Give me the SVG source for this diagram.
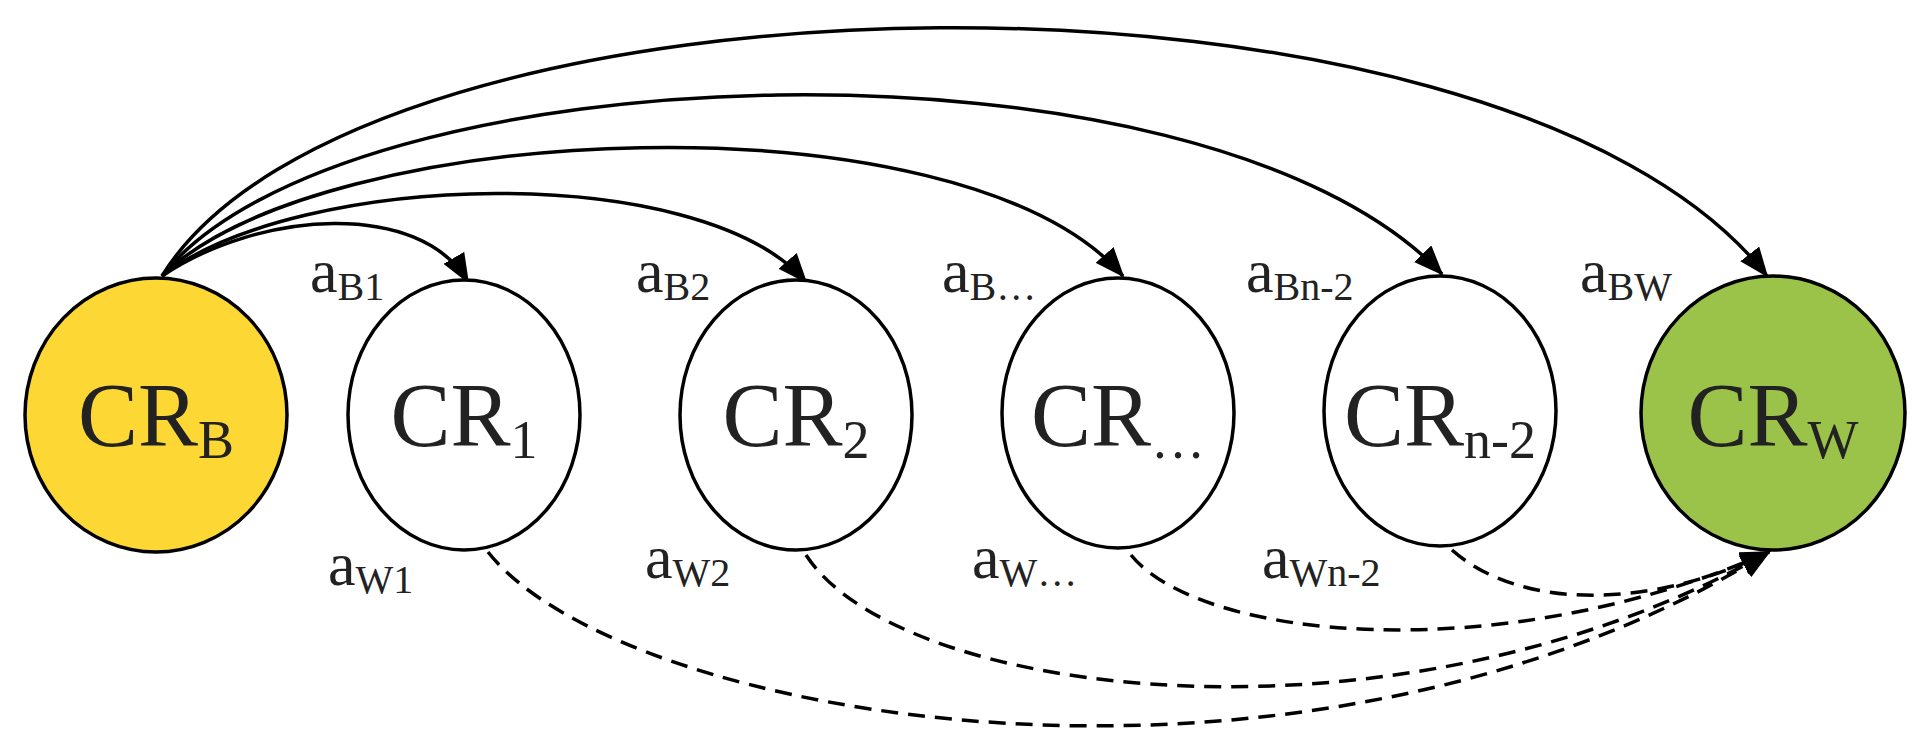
<svg xmlns="http://www.w3.org/2000/svg" width="1924" height="753" viewBox="0 0 1924 753">
<style>
.n{stroke:#000;stroke-width:3.5}
.t{font-family:"Liberation Serif",serif;fill:#222}
.big{font-size:90px}
.sub{font-size:54px}
.lab{font-size:62px}
.ls{font-size:40px}
.c{fill:none;stroke:#000;stroke-width:3.5}
.d{stroke-dasharray:17 10}
</style>
<defs>
<marker id="a" viewBox="0 0 30 24" refX="28" refY="12" markerWidth="30" markerHeight="24" orient="auto" markerUnits="userSpaceOnUse"><path d="M0,0 L30,12 L0,24 z" fill="#000"/></marker>
</defs>
<rect width="1924" height="753" fill="#fff"/>
<g id="connectors">
<path class="c" marker-end="url(#a)" d="M162,276 C260,210 420,200 468,282"/>
<path class="c" marker-end="url(#a)" d="M162,276 C300,170 700,160 806,282"/>
<path class="c" marker-end="url(#a)" d="M162,276 C320,120 960,90 1123,276"/>
<path class="c" marker-end="url(#a)" d="M162,276 C340,50 1200,20 1442,274"/>
<path class="c" marker-end="url(#a)" d="M162,276 C360,-45 1500,-65 1767,276"/>
<path class="c d" marker-end="url(#a)" d="M488,552 C620,720 1300,840 1769,552"/>
<path class="c d" marker-end="url(#a)" d="M806,555 C900,700 1400,760 1769,552"/>
<path class="c d" marker-end="url(#a)" d="M1131,555 C1200,640 1500,670 1769,552"/>
<path class="c d" marker-end="url(#a)" d="M1452,550 C1520,610 1650,610 1769,552"/>
</g>
<g id="CR_B"><ellipse class="n" cx="156" cy="415" rx="131" ry="137" fill="#fdd835"/><text class="t big" x="156" y="446" text-anchor="middle">CR<tspan class="sub" dy="12">B</tspan></text></g>
<g id="CR_1"><ellipse class="n" cx="464" cy="415" rx="116" ry="135" fill="#fff"/><text class="t big" x="464" y="446" text-anchor="middle">CR<tspan class="sub" dy="12">1</tspan></text></g>
<g id="CR_2"><ellipse class="n" cx="796" cy="415" rx="116" ry="135" fill="#fff"/><text class="t big" x="796" y="446" text-anchor="middle">CR<tspan class="sub" dy="12">2</tspan></text></g>
<g id="CR_dots"><ellipse class="n" cx="1118" cy="413" rx="116" ry="135" fill="#fff"/><text class="t big" x="1118" y="446" text-anchor="middle">CR<tspan class="sub" dy="12">…</tspan></text></g>
<g id="CR_n2"><ellipse class="n" cx="1440" cy="411" rx="116" ry="135" fill="#fff"/><text class="t big" x="1440" y="446" text-anchor="middle">CR<tspan class="sub" dy="12">n-2</tspan></text></g>
<g id="CR_W"><ellipse class="n" cx="1773" cy="413" rx="132" ry="137" fill="#9bc34a"/><text class="t big" x="1773" y="446" text-anchor="middle">CR<tspan class="sub" dy="12">W</tspan></text></g>
<g id="labels" class="t">
<text class="lab" x="310" y="292">a<tspan class="ls" dy="8">B1</tspan></text>
<text class="lab" x="636" y="292">a<tspan class="ls" dy="8">B2</tspan></text>
<text class="lab" x="942" y="292">a<tspan class="ls" dy="8">B…</tspan></text>
<text class="lab" x="1246" y="292">a<tspan class="ls" dy="8">Bn-2</tspan></text>
<text class="lab" x="1580" y="292">a<tspan class="ls" dy="8">BW</tspan></text>
<text class="lab" x="328" y="585">a<tspan class="ls" dy="8">W1</tspan></text>
<text class="lab" x="645" y="578">a<tspan class="ls" dy="8">W2</tspan></text>
<text class="lab" x="972" y="578">a<tspan class="ls" dy="8">W…</tspan></text>
<text class="lab" x="1262" y="578">a<tspan class="ls" dy="8">Wn-2</tspan></text>
</g>
</svg>
